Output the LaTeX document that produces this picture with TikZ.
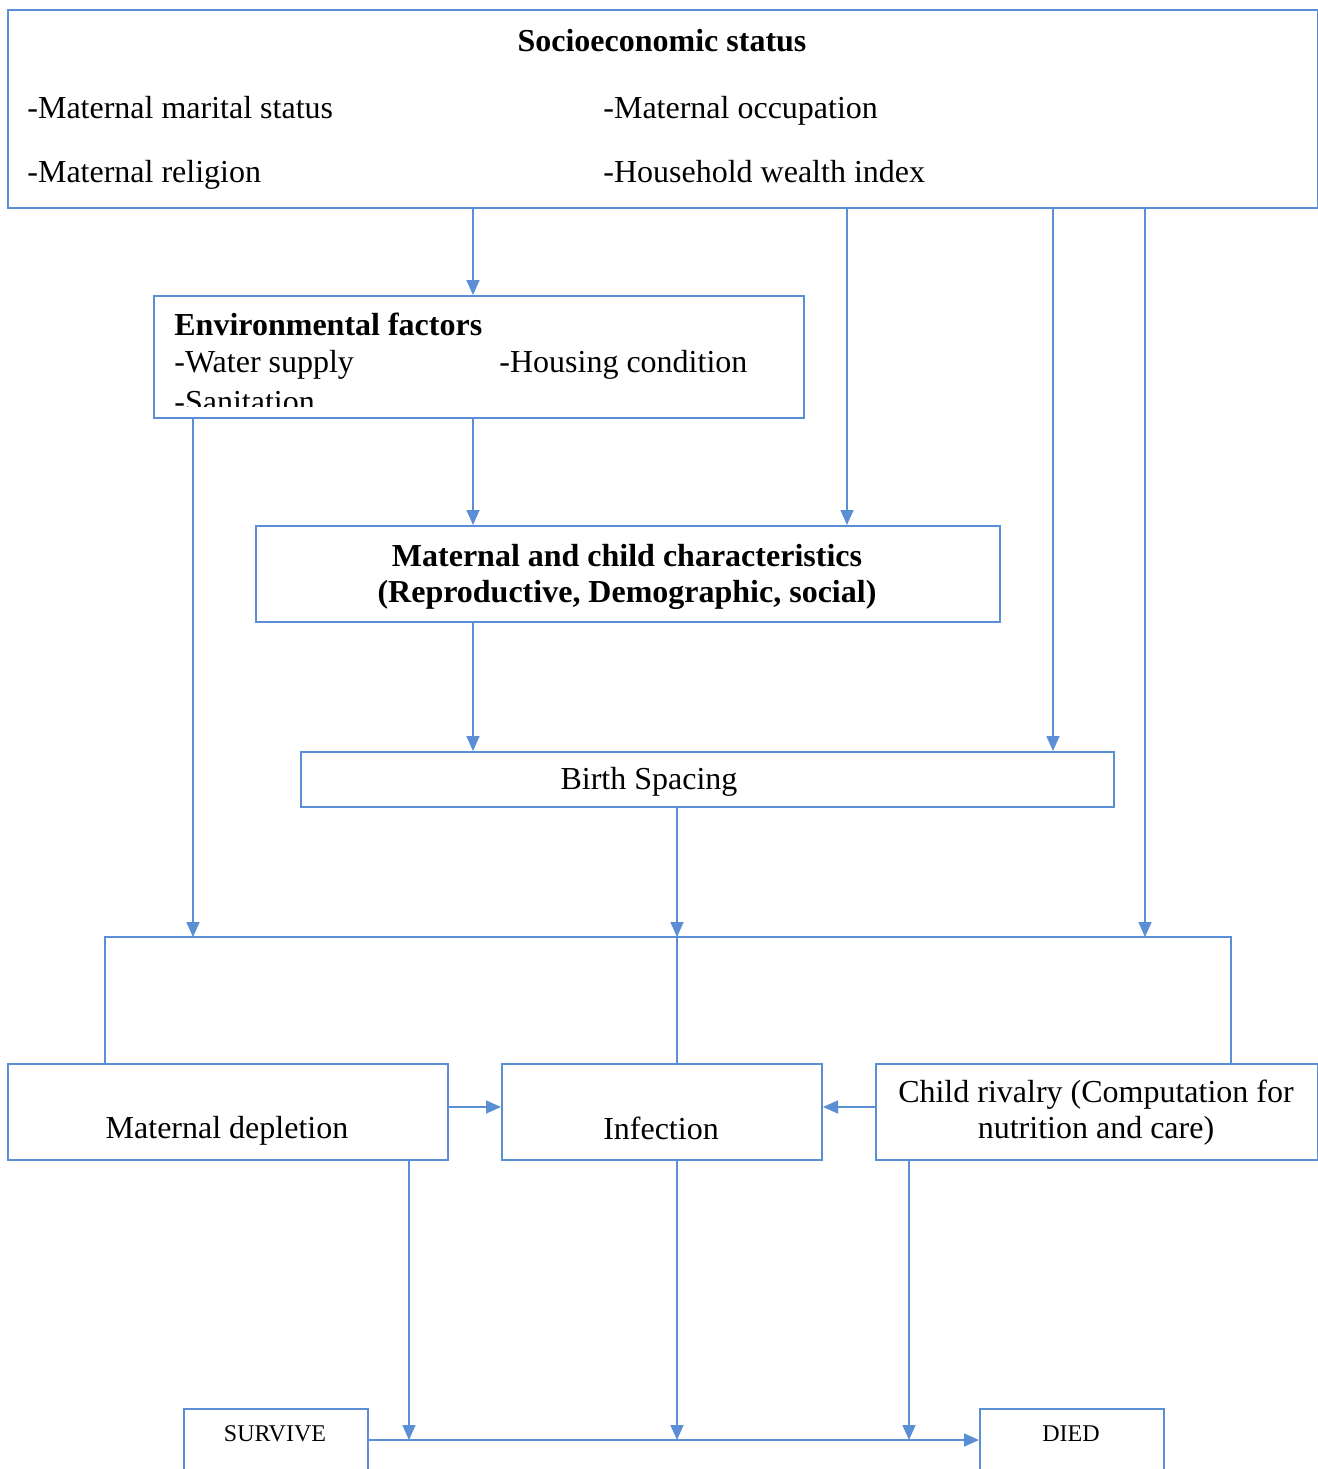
\documentclass[tikz,border=0pt]{standalone}
\usepackage{fontspec}
\setmainfont{Liberation Serif}
\usepackage{xcolor}
\usepackage{tikz}
\usetikzlibrary{arrows.meta}
\definecolor{lnblue}{HTML}{5A8FD6}

\begin{document}
\begin{tikzpicture}[x=0.5pt, y=-0.5pt,
  box/.style={draw=lnblue, line width=1pt, inner sep=0pt, anchor=north west},
  txt/.style={inner sep=0pt, font=\fontsize{16}{18}\selectfont},
  small/.style={inner sep=0pt, font=\fontsize{12}{14}\selectfont},
  ln/.style={draw=lnblue, line width=0.8pt},
  arr/.style={ln, -{Triangle[width=6.5pt,length=7.5pt]}}]
\clip (0,0) rectangle (1318,1469);

% boxes
\node[box, minimum width=655pt, minimum height=99pt] (ses) at (7,9) {};
\node[box, minimum width=325pt, minimum height=61pt] (env) at (153,295) {};
\node[box, minimum width=372pt, minimum height=48pt] (mc) at (255,525) {};
\node[box, minimum width=406.5pt, minimum height=27.5pt] (bsp) at (300,751) {};
\node[box, minimum width=220pt, minimum height=48pt] (dep) at (7,1063) {};
\node[box, minimum width=160pt, minimum height=48pt] (inf) at (501,1063) {};
\node[box, minimum width=221pt, minimum height=48pt] (riv) at (875,1063) {};
\node[box, minimum width=92pt, minimum height=50pt] (surv) at (183,1408) {};
\node[box, minimum width=92pt, minimum height=50pt] (died) at (979,1408) {};

% texts
\node[txt, anchor=base, font=\fontsize{16}{18}\selectfont\bfseries] (sestitle) at (662,51) {Socioeconomic status};
\node[txt, anchor=base west] (marital) at (27,118) {-Maternal marital status};
\node[txt, anchor=base west] (occup) at (603,118) {-Maternal occupation};
\node[txt, anchor=base west] (relig) at (27,182) {-Maternal religion};
\node[txt, anchor=base west] (wealth) at (603,182) {-Household wealth index};
\node[txt, anchor=base west, font=\fontsize{16}{18}\selectfont\bfseries] (envtitle) at (174,335) {Environmental factors};
\node[txt, anchor=base west] (water) at (174,372) {-Water supply};
\node[txt, anchor=base west] (housing) at (499,372) {-Housing condition};
\begin{scope}
\clip (153,295) rectangle (803,406);
\node[txt, anchor=base west] (sanit) at (174,412) {-Sanitation};
\end{scope}
\node[txt, anchor=base, align=center, font=\fontsize{16}{18}\selectfont\bfseries] (mctext) at (627,602)
  {Maternal and child characteristics\\(Reproductive, Demographic, social)};
\node[txt, anchor=base] (bsptext) at (649,789) {Birth Spacing};
\node[txt, anchor=base] (deptext) at (227,1138) {Maternal depletion};
\node[txt, anchor=base] (inftext) at (661,1139) {Infection};
\node[txt, anchor=base, align=center] (rivtext) at (1096,1138)
  {Child rivalry (Computation for\\nutrition and care)};
\node[small, anchor=base] (survtext) at (275,1441) {SURVIVE};
\node[small, anchor=base] (diedtext) at (1071,1441) {DIED};

% columns and levels
\coordinate (cA) at (473,0);
\coordinate (cB) at (847,0);
\coordinate (cC) at (1053,0);
\coordinate (cD) at (1145,0);
\coordinate (cE) at (193,0);
\coordinate (cF) at (677,0);
\coordinate (cG) at (409,0);
\coordinate (cH) at (909,0);
\coordinate (busL) at (105,937);
\coordinate (busR) at (1231,937);
\coordinate (mid) at (0,1107);
\coordinate (lvl) at (0,1440);

% connectors
\draw[arr] (ses.south -| cA) -- (env.north -| cA);
\draw[arr] (ses.south -| cB) -- (mc.north -| cB);
\draw[arr] (ses.south -| cC) -- (bsp.north -| cC);
\draw[arr] (ses.south -| cD) -- (busR -| cD);
\draw[arr] (env.south -| cA) -- (mc.north -| cA);
\draw[arr] (env.south -| cE) -- (busL -| cE);
\draw[arr] (mc.south -| cA) -- (bsp.north -| cA);
\draw[arr] (bsp.south -| cF) -- (busL -| cF);
\draw[ln] (dep.north -| busL) -- (busL) -- (busR) -- (riv.north -| busR);
\draw[ln] (busL -| cF) -- (inf.north -| cF);
\draw[arr] (dep.east |- mid) -- (inf.west |- mid);
\draw[arr] (riv.west |- mid) -- (inf.east |- mid);
\draw[arr] (dep.south -| cG) -- (lvl -| cG);
\draw[arr] (inf.south -| cF) -- (lvl -| cF);
\draw[arr] (riv.south -| cH) -- (lvl -| cH);
\draw[arr] (surv.east |- lvl) -- (died.west |- lvl);
\end{tikzpicture}
\end{document}
